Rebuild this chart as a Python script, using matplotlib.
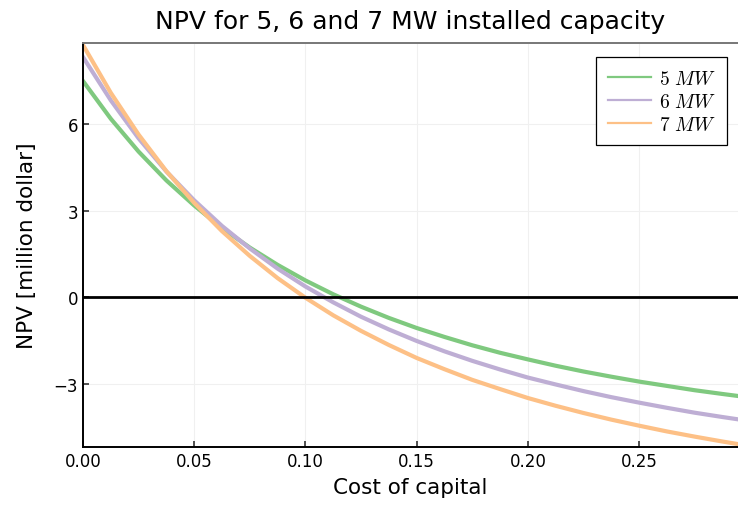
import matplotlib
matplotlib.use('Agg')
import matplotlib.pyplot as plt

# cost of capital (x) and NPV in million dollar
rates = [0.0, 0.0125, 0.025, 0.0375, 0.05, 0.0625, 0.075, 0.0875, 0.1, 0.1125,
         0.125, 0.1375, 0.15, 0.1625, 0.175, 0.1875, 0.2, 0.2125, 0.225, 0.2375,
         0.25, 0.2625, 0.275, 0.2875, 0.2945]
npv_5mw = [7.50, 6.19, 5.05, 4.05, 3.18, 2.40, 1.72, 1.12, 0.58, 0.10,
           -0.33, -0.72, -1.07, -1.38, -1.67, -1.93, -2.16, -2.38, -2.58, -2.76,
           -2.93, -3.08, -3.23, -3.36, -3.43]
npv_6mw = [8.33, 6.83, 5.51, 4.36, 3.36, 2.47, 1.69, 0.99, 0.37, -0.18,
           -0.68, -1.12, -1.52, -1.88, -2.21, -2.51, -2.79, -3.03, -3.26, -3.47,
           -3.66, -3.84, -4.01, -4.16, -4.24]
npv_7mw = [8.75, 7.09, 5.64, 4.37, 3.27, 2.29, 1.43, 0.66, -0.02, -0.63,
           -1.17, -1.66, -2.11, -2.50, -2.87, -3.19, -3.50, -3.77, -4.02, -4.25,
           -4.46, -4.66, -4.84, -5.01, -5.10]
labels = [r'$5\ MW$', r'$6\ MW$', r'$7\ MW$']
colors = ['#7fc97f', '#beaed4', '#fdc086']

x_ticks = [0.0, 0.05, 0.10, 0.15, 0.20, 0.25]
y_ticks = [-3, 0, 3, 6]

plt.rcParams['mathtext.fontset'] = 'cm'

fig = plt.figure(figsize=(7.38, 5.10), dpi=100)
ax = fig.add_axes([0.1125, 0.1216, 0.8875, 0.7921])

for vals, lab, col in zip([npv_5mw, npv_6mw, npv_7mw], labels, colors):
    ax.plot(rates, vals, color=col, lw=3, label=lab)
ax.axhline(0, color='black', lw=2, zorder=3)

ax.set_xlim(0, 0.2945)
ax.set_ylim(-5.2, 8.82)
ax.set_xticks(x_ticks)
ax.set_xticklabels(['%.2f' % t for t in x_ticks])
ax.set_yticks(y_ticks)
ax.set_yticklabels(['\u22123', '0', '3', '6'])
ax.tick_params(labelsize=12, length=4, width=1.2, color='#333333', direction='in')
ax.grid(True, color='#f0f0f0', lw=0.8)
ax.set_axisbelow(True)

for side in ['left', 'bottom']:
    ax.spines[side].set_color('black')
    ax.spines[side].set_linewidth(1.4)
ax.spines['top'].set_color('#777777')
ax.spines['top'].set_linewidth(1.4)
ax.spines['right'].set_visible(False)

ax.set_title('NPV for 5, 6 and 7 MW installed capacity', fontsize=18, pad=11)
ax.set_xlabel('Cost of capital', fontsize=15.5, labelpad=5)
ax.set_ylabel('NPV [million dollar]', fontsize=15.5, labelpad=12)

leg = ax.legend(loc='upper right', bbox_to_anchor=(0.983, 0.965), fontsize=14,
                fancybox=False, edgecolor='black', framealpha=1,
                handlelength=2.2, handletextpad=0.4, labelspacing=0.2,
                borderpad=0.6, borderaxespad=0)
leg.get_frame().set_linewidth(0.9)
for line in leg.get_lines():
    line.set_linewidth(1.6)

fig.savefig('out.png', dpi=100)
